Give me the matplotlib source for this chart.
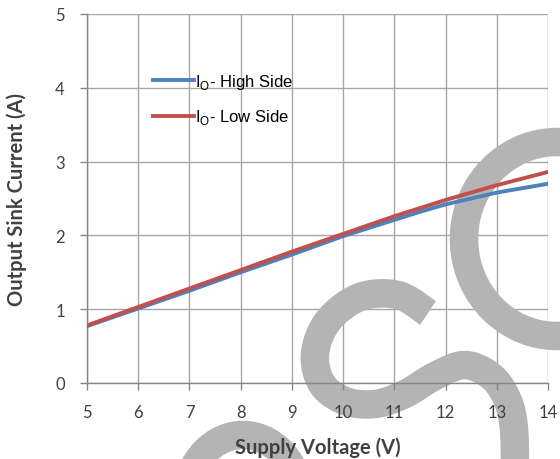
import numpy as np
import matplotlib
matplotlib.use("Agg")
from matplotlib import pyplot as plt
from matplotlib.patches import Arc
from matplotlib.lines import Line2D

# supply voltage (V) and sink current (A)
voltage = [5, 6, 7, 8, 9, 10, 11, 11.5, 12, 12.5, 13, 13.5, 14]
io_high_side = [0.77, 1.01, 1.25, 1.50, 1.74, 1.99, 2.21, 2.32, 2.42, 2.50, 2.58, 2.64, 2.70]
io_low_side = [0.78, 1.03, 1.28, 1.53, 1.78, 2.02, 2.26, 2.37, 2.48, 2.58, 2.68, 2.77, 2.86]

x_ticks = list(range(5, 15))
y_ticks = [0, 1, 2, 3, 4, 5]

W, H = 560, 460
fig = plt.figure(figsize=(W / 100, H / 100), dpi=100)
ax = fig.add_axes([87 / W, 1 - 384 / H, (548 - 87) / W, (384 - 15) / H])

grid_col = '#a6a6a6'
for xv in x_ticks:
    ax.axvline(xv, color=grid_col, lw=1.0, zorder=0.5)
for yv in y_ticks:
    ax.axhline(yv, color=grid_col, lw=1.0, zorder=0.5)


# grey watermark swirl, laid out in pixel coordinates of the figure
def px(pts):
    pts = np.asarray(pts, float)
    return pts[:, 0] / W, 1 - pts[:, 1] / H


def smooth(pts, n=20):
    p = np.asarray(pts, float)
    p = np.vstack([p[0], p, p[-1]])
    out = []
    for i in range(1, len(p) - 2):
        p0, p1, p2, p3 = p[i - 1], p[i], p[i + 1], p[i + 2]
        for t in np.linspace(0, 1, n, endpoint=False):
            out.append(0.5 * (2 * p1 + (-p0 + p2) * t
                              + (2 * p0 - 5 * p1 + 4 * p2 - p3) * t ** 2
                              + (-p0 + 3 * p1 - 3 * p2 + p3) * t ** 3))
    out.append(p[-2])
    return np.array(out)


wm_col = '#b4b4b4'
wm_lw = 20.5
s_path = [(428, 314), (398, 296), (360, 298), (328, 322), (315, 355),
          (322, 385), (345, 402), (375, 405), (405, 395), (435, 377),
          (465, 366), (492, 378), (508, 402), (514, 430), (515, 475)]
sx, sy = px(smooth(s_path))
ax.add_line(Line2D(sx, sy, transform=fig.transFigure, color=wm_col, lw=wm_lw,
                   solid_capstyle='butt', clip_on=False, zorder=1))
ax.add_patch(Arc((557 / W, 1 - 240 / H), 2 * 93 / W, 2 * 97 / H, theta1=55, theta2=305,
                 transform=fig.transFigure, color=wm_col, lw=wm_lw, clip_on=False, zorder=1))
ax.add_patch(Arc((243 / W, 1 - 505 / H), 2 * 58 / W, 2 * 69 / H, theta1=10, theta2=170,
                 transform=fig.transFigure, color=wm_col, lw=wm_lw, clip_on=False, zorder=1))

ax.plot(voltage, io_high_side, color='#4F81BD', lw=2.8, label=r'I$_\mathregular{O}$- High Side',
        zorder=3, solid_joinstyle='round')
ax.plot(voltage, io_low_side, color='#C0504D', lw=2.8, label=r'I$_\mathregular{O}$- Low Side',
        zorder=3, solid_joinstyle='round')

ax.set_xlim(5, 14)
ax.set_ylim(0, 5)
ax.set_xticks(x_ticks)
ax.set_yticks(y_ticks)
ax.set_axisbelow('line')

for s in ['top', 'right']:
    ax.spines[s].set_visible(False)
for s in ['left', 'bottom']:
    ax.spines[s].set_color('#868686')
    ax.spines[s].set_linewidth(1.0)
    ax.spines[s].set_zorder(1.5)

ax.tick_params(direction='out', length=5, width=1, color='#868686',
               labelsize=12, labelcolor='#404040')
ax.tick_params(axis='x', pad=10)
ax.tick_params(axis='y', pad=11)
for lab in ax.get_xticklabels() + ax.get_yticklabels():
    lab.set_family('Lato')

ax.set_xlabel('Supply Voltage (V)', family='Lato', fontweight='bold', fontsize=14.5,
              color='#404040', labelpad=12)
ax.set_ylabel('Output Sink Current (A)', family='Lato', fontweight='bold', fontsize=14.5,
              color='#404040', labelpad=20)

leg = ax.legend(loc='upper left', bbox_to_anchor=((146 - 87) / (548 - 87), (384 - 66) / (384 - 15)),
                frameon=False, prop={'family': 'Liberation Sans', 'size': 12},
                handlelength=2.5, handletextpad=0.05, labelspacing=1.0, borderaxespad=0)
for t in leg.get_texts():
    t.set_color('#000000')

fig.savefig('out.png', dpi=100)
